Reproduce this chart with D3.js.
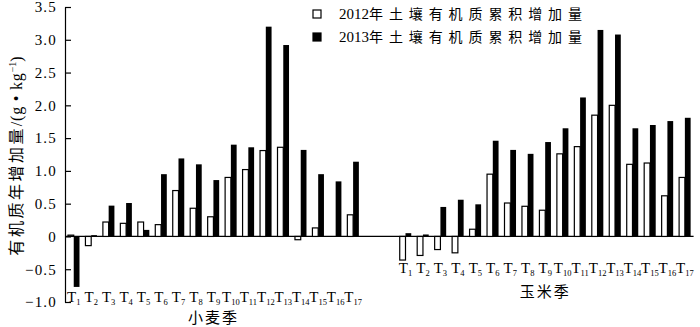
<!DOCTYPE html>
<html>
<head>
<meta charset="utf-8">
<script src="https://cdn.jsdelivr.net/npm/d3@7"></script>
<style>
  body { margin: 0; background: #fff; }
  svg { display: block; }
</style>
</head>
<body>
<div id="chart"></div>
<script>
// values (g/kg)
var treatments = ["1","2","3","4","5","6","7","8","9","10","11","12","13","14","15","16","17"];
var seasons = ["小麦季", "玉米季"];
var years = ["2012", "2013"];
var wheat2012 = [0.02, -0.14, 0.22, 0.20, 0.22, 0.18, 0.70, 0.43, 0.30, 0.90, 1.02, 1.31, 1.36, -0.05, 0.13, 0.00, 0.33];
var wheat2013 = [-0.77, 0.02, 0.47, 0.51, 0.10, 0.95, 1.19, 1.10, 0.86, 1.40, 1.36, 3.20, 2.92, 1.32, 0.95, 0.84, 1.14];
var maize2012 = [-0.36, -0.29, -0.20, -0.25, 0.11, 0.95, 0.51, 0.46, 0.40, 1.26, 1.37, 1.85, 2.00, 1.10, 1.12, 0.62, 0.90];
var maize2013 = [0.05, 0.03, 0.45, 0.56, 0.49, 1.46, 1.32, 1.26, 1.44, 1.65, 2.12, 3.15, 3.08, 1.65, 1.70, 1.76, 1.81];
var yTicks = [-1.0, -0.5, 0, 0.5, 1.0, 1.5, 2.0, 2.5, 3.0, 3.5];
var legendLabels = ["2012年土壤有机质累积增加量", "2013年土壤有机质累积增加量"];

(function() {
  var width = 700, height = 327;
  var serif = "'Liberation Serif', 'DejaVu Serif', serif";
  var cjk = "'Noto Sans CJK SC', sans-serif";

  var svg = d3.select("#chart").append("svg")
              .attr("width", width)
              .attr("height", height);

  var series = {
    "小麦季": {"2012": wheat2012, "2013": wheat2013},
    "玉米季": {"2012": maize2012, "2013": maize2013}
  };

  // one slot per treatment, two empty slots between the seasons
  var slots = [];
  seasons.forEach(function(s, i) {
    if (i > 0) slots.push("gap1", "gap2");
    treatments.forEach(function(t) { slots.push(s + t); });
  });

  var rows = [];
  seasons.forEach(function(s) {
    years.forEach(function(yr) {
      series[s][yr].forEach(function(v, i) {
        rows.push({season: s, t: treatments[i], year: yr, value: v});
      });
    });
  });

  var x0 = d3.scaleBand().domain(slots).range([65, 693.6])
             .paddingInner(0.34).paddingOuter(0.17);
  var x1 = d3.scaleBand().domain(years).range([0, x0.bandwidth()]);
  var y = d3.scaleLinear().domain([-1, 3.5]).range([302, 7]);

  // zero line across both seasons
  svg.append("line")
     .attr("x1", x0.range()[0]).attr("x2", x0.range()[1])
     .attr("y1", y(0)).attr("y2", y(0))
     .attr("stroke", "#000").attr("stroke-width", 1.2);

  // bars
  svg.selectAll(".bar")
     .data(rows)
     .enter().append("rect")
     .attr("class", "bar")
     .attr("x", function(d) { return x0(d.season + d.t) + x1(d.year); })
     .attr("y", function(d) { return y(Math.max(0, d.value)); })
     .attr("width", x1.bandwidth())
     .attr("height", function(d) { return Math.abs(y(d.value) - y(0)); })
     .attr("fill", function(d) { return d.year === "2012" ? "#fff" : "#000"; })
     .attr("stroke", "#000")
     .attr("stroke-width", function(d) { return d.year === "2012" ? 1.2 : 0; });

  // y axis, ticks pointing inward
  var yAxis = d3.axisLeft(y)
                .tickValues(yTicks)
                .tickSizeInner(-6)
                .tickSizeOuter(0)
                .tickPadding(8)
                .tickFormat(function(d) {
                  if (d === 0) return "0";
                  return (d < 0 ? "\u2212" : "") + Math.abs(d).toFixed(1);
                });
  var ga = svg.append("g").attr("transform", "translate(65,0)").call(yAxis);
  ga.select(".domain").attr("stroke-width", 1.2);
  ga.selectAll(".tick line").attr("stroke-width", 1.2);
  ga.selectAll("text")
    .attr("font-family", serif)
    .attr("font-size", 15)
    .attr("letter-spacing", 1.2)
    .attr("fill", "#000");

  // y title
  var title = svg.append("text")
     .attr("transform", "translate(22,156) rotate(-90)")
     .attr("text-anchor", "middle")
     .attr("fill", "#000");
  title.append("tspan").attr("font-family", cjk).attr("font-size", 16)
       .attr("letter-spacing", 2.5).text("有机质年增加量");
  title.append("tspan").attr("font-family", serif).attr("font-size", 16)
       .attr("letter-spacing", 0.8).text("/(g \u2022 kg");
  title.append("tspan").attr("font-family", serif).attr("font-size", 10)
       .attr("dy", -6).text("\u22121");
  title.append("tspan").attr("font-family", serif).attr("font-size", 16)
       .attr("dy", 6).text(")");

  // treatment labels T1..T17 under each season
  var labelY = {"小麦季": 302, "玉米季": 273};
  var seasonY = {"小麦季": 323, "玉米季": 297};
  seasons.forEach(function(s) {
    var g = svg.append("g");
    treatments.forEach(function(t) {
      var tx = g.append("text")
        .attr("x", x0(s + t) + x0.bandwidth() / 2)
        .attr("y", labelY[s])
        .attr("text-anchor", "middle")
        .attr("font-family", serif)
        .attr("fill", "#000");
      tx.append("tspan").attr("font-size", 15).text("T");
      tx.append("tspan").attr("font-size", 8.5).attr("dy", 2.5).text(t);
    });
    var first = x0(s + treatments[0]), last = x0(s + treatments[treatments.length - 1]) + x0.bandwidth();
    svg.append("text")
       .attr("x", (first + last) / 2)
       .attr("y", seasonY[s])
       .attr("text-anchor", "middle")
       .attr("font-family", cjk)
       .attr("font-size", 15)
       .attr("letter-spacing", 2)
       .attr("fill", "#000")
       .text(s);
  });

  // legend
  var legend = svg.selectAll(".legend")
     .data(years)
     .enter().append("g")
     .attr("class", "legend")
     .attr("transform", function(d, i) { return "translate(313," + (10 + i * 23) + ")"; });
  legend.append("rect")
     .attr("width", 8).attr("height", 8)
     .attr("fill", function(d) { return d === "2012" ? "#fff" : "#000"; })
     .attr("stroke", "#000").attr("stroke-width", 1.2);
  var lt = legend.append("text")
     .attr("x", 26).attr("y", 9)
     .attr("fill", "#000");
  lt.append("tspan").attr("font-family", serif).attr("font-size", 15)
    .text(function(d, i) { return legendLabels[i].slice(0, 4); });
  lt.append("tspan").attr("font-family", cjk).attr("font-size", 14)
    .attr("letter-spacing", 5.9)
    .text(function(d, i) { return legendLabels[i].slice(4); });
})();
</script>
</body>
</html>
